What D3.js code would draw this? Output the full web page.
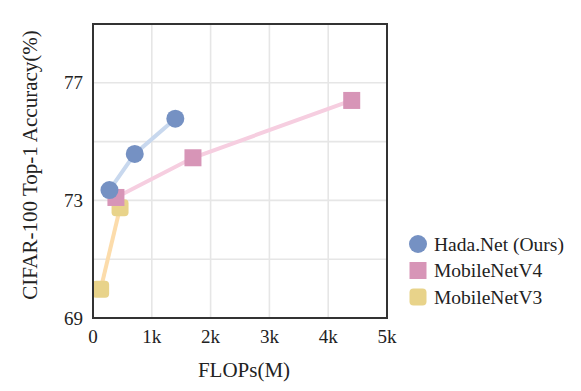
<!DOCTYPE html>
<html>
<head>
<meta charset="utf-8">
<script src="https://cdn.jsdelivr.net/npm/d3@7"></script>
<style>
  body { margin: 0; background: #fff; }
  svg text { font-family: "Liberation Serif", "Times New Roman", serif; fill: #222; }
</style>
</head>
<body>
<div class="visholder"></div>
<script>
// data
const hadaFlops = [280, 710, 1400],
    hadaAcc = [73.35, 74.58, 75.78];
const v4Flops = [390, 1700, 4400],
    v4Acc = [73.1, 74.45, 76.4];
const v3Flops = [130, 460],
    v3Acc = [69.98, 72.75];
const xTicks = [0, 1000, 2000, 3000, 4000, 5000],
    xTickLabels = ["0", "1k", "2k", "3k", "4k", "5k"];
const yTicks = [69, 73, 77],
    yGrid = [71, 73, 75, 77];
const seriesNames = ["Hada.Net (Ours)", "MobileNetV4", "MobileNetV3"];

// costants
const plotLeft = 93, plotTop = 24, plotW = 294, plotH = 294;

let svg = d3.select(".visholder").append("svg")
    .attr("width", 581)
    .attr("height", 391);

let xScale = d3.scaleLinear().domain([0, 5000]).range([plotLeft, plotLeft + plotW]);
let yScale = d3.scaleLinear().domain([69, 79]).range([plotTop + plotH, plotTop]);

// grid
svg.append("g").selectAll("line").data(xTicks.slice(1, -1)).enter().append("line")
    .attr("x1", d => xScale(d)).attr("x2", d => xScale(d))
    .attr("y1", plotTop).attr("y2", plotTop + plotH)
    .style("stroke", "#e6e6e6").style("stroke-width", 1.6);
svg.append("g").selectAll("line").data(yGrid).enter().append("line")
    .attr("y1", d => yScale(d)).attr("y2", d => yScale(d))
    .attr("x1", plotLeft).attr("x2", plotLeft + plotW)
    .style("stroke", "#e6e6e6").style("stroke-width", 1.6);

// series
const series = [
    { flops: v3Flops, acc: v3Acc, line: "#fcdcab", fill: "#e8d38a", shape: "round" },
    { flops: v4Flops, acc: v4Acc, line: "#f6cee0", fill: "#d795b7", shape: "square" },
    { flops: hadaFlops, acc: hadaAcc, line: "#c8d8ee", fill: "#7591c3", shape: "circle" }
];
let lineGen = d3.line().x(d => xScale(d[0])).y(d => yScale(d[1]));
series.forEach(s => {
    let pts = s.flops.map((f, i) => [f, s.acc[i]]);
    svg.append("path").datum(pts).attr("d", lineGen)
        .style("fill", "none").style("stroke", s.line).style("stroke-width", 4);
});

function marker(g, shape, fill, cx, cy) {
    if (shape === "circle") {
        g.append("circle").attr("cx", cx).attr("cy", cy).attr("r", 9).style("fill", fill);
    } else {
        const r = shape === "round" ? 4 : 0;
        g.append("rect").attr("x", cx - 8.5).attr("y", cy - 8.5)
            .attr("width", 17).attr("height", 17).attr("rx", r)
            .style("fill", fill);
    }
}
series.forEach(s => {
    s.flops.forEach((f, i) => marker(svg, s.shape, s.fill, xScale(f), yScale(s.acc[i])));
});

// frame
svg.append("rect").attr("x", plotLeft).attr("y", plotTop).attr("width", plotW).attr("height", plotH)
    .style("fill", "none").style("stroke", "#333").style("stroke-width", 2);

// ticks
svg.append("g").selectAll("text").data(xTicks).enter().append("text")
    .text((d, i) => xTickLabels[i])
    .attr("x", d => xScale(d)).attr("y", 343)
    .attr("text-anchor", "middle").style("font-size", "19px");
svg.append("g").selectAll("text").data(yTicks).enter().append("text")
    .text(d => d)
    .attr("x", 83).attr("y", d => yScale(d) + 6.5)
    .attr("text-anchor", "end").style("font-size", "19px");

// axis labels
svg.append("text").text("FLOPs(M)")
    .attr("x", 244).attr("y", 377)
    .attr("text-anchor", "middle").style("font-size", "21px");
svg.append("text").text("CIFAR-100 Top-1 Accuracy(%)")
    .attr("transform", "translate(37,165) rotate(-90)")
    .attr("text-anchor", "middle").style("font-size", "21px");

// legend
const legendSeries = [series[2], series[1], series[0]];
legendSeries.forEach((s, i) => {
    const cy = 244 + i * 26.5;
    marker(svg, s.shape, s.fill, 418, cy);
    svg.append("text").text(seriesNames[i])
        .attr("x", 434).attr("y", cy + 6.5).style("font-size", "19.5px");
});
</script>
</body>
</html>
